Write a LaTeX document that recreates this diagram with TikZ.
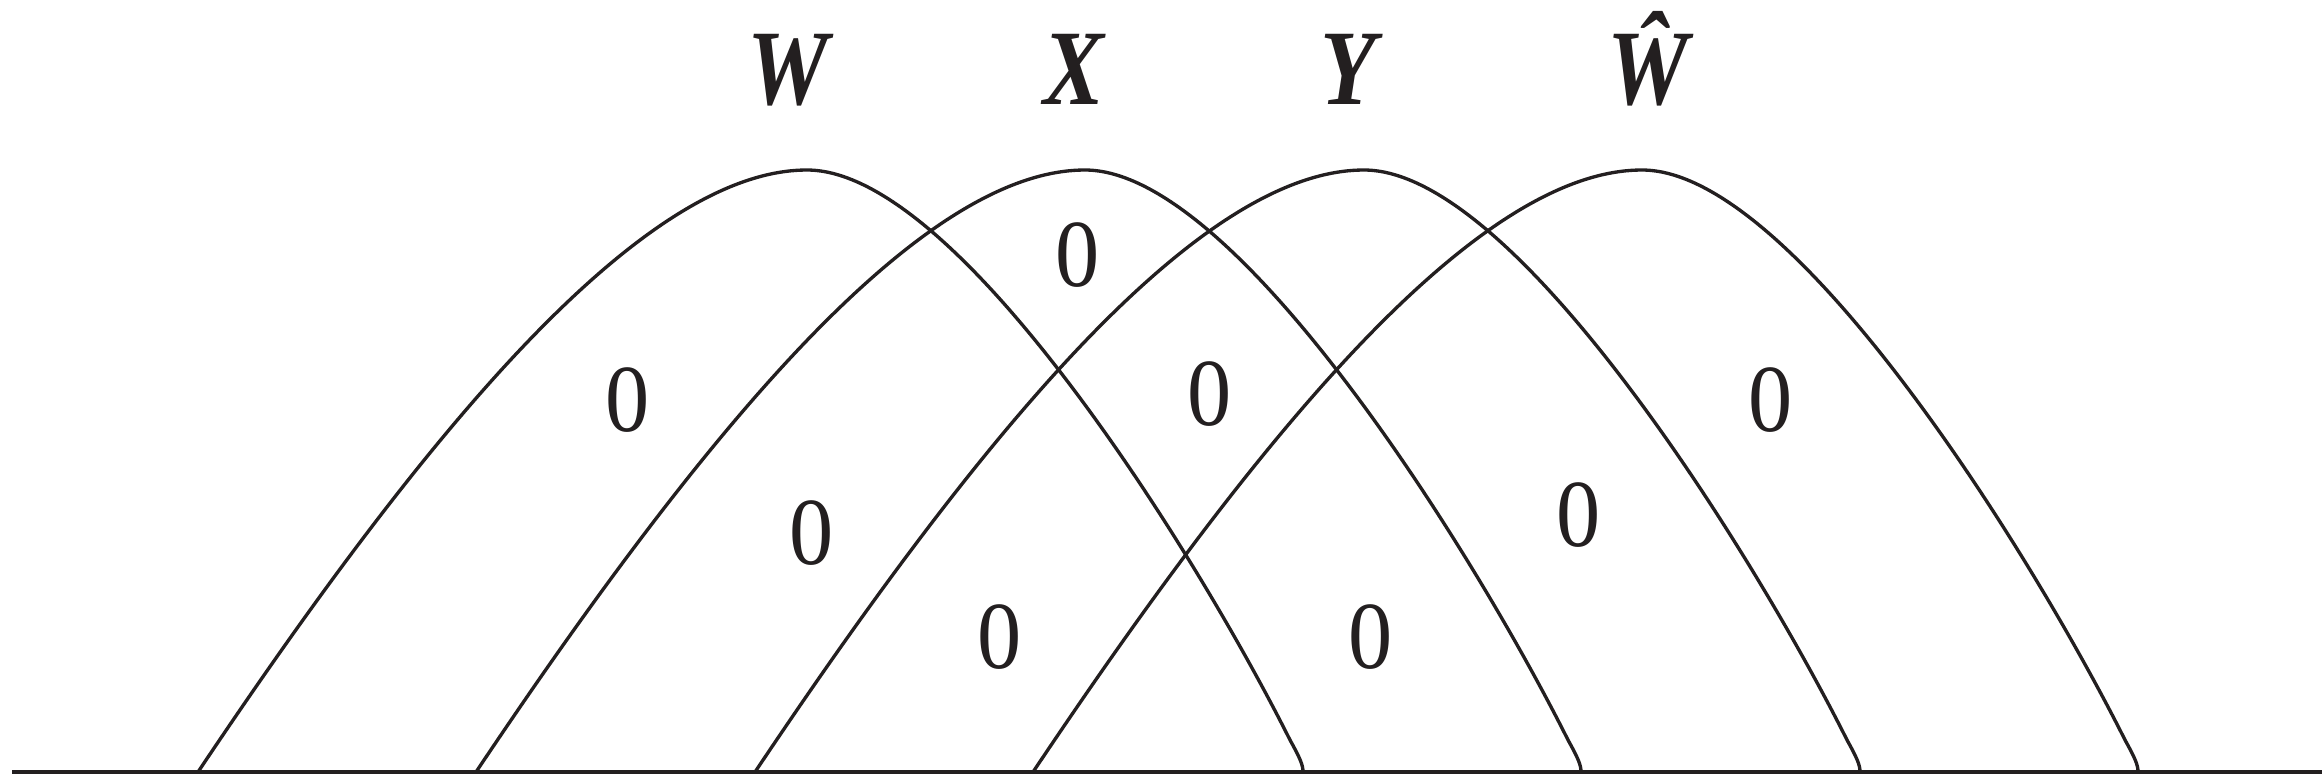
\documentclass[tikz,border=0pt]{standalone}
\usepackage{graphicx}
\usepackage{fontspec}
\setmainfont{Liberation Serif}
\definecolor{ink}{RGB}{35,31,32}
\begin{document}
\begin{tikzpicture}[x=0.01cm,y=-0.01cm,
  arch/.style={draw=ink, line width=0.95pt, line join=round, line cap=round},
  base/.style={draw=ink, line width=1.3pt},
  lbl/.style={text=ink, font=\fontsize{30.5}{32}\selectfont\bfseries\itshape, inner sep=0pt, anchor=base},
  zero/.style={text=ink, font=\fontsize{27.3}{30}\selectfont, inner sep=0pt}]
\useasboundingbox (0,0) rectangle (2322,778);
\coordinate (bl) at (12,772);
\coordinate (br) at (2322,772);
\draw[base] (bl) -- (br);
\foreach \s in {0,278,557,835}{
  \draw[arch,shift={(\s,0)}] (198,772) .. controls (420,440) and (640,170) .. (807,170)
     .. controls (960,170) and (1200,560) .. (1290,740)
     .. controls (1300,758) and (1303,765) .. (1303,772);
}
\node[lbl] (W) at (788,104) {\scalebox{0.85}[1]{W}};
\node[lbl] (X) at (1074,104) {\scalebox{0.85}[1]{X}};
\node[lbl] (Y) at (1348,104) {\scalebox{0.85}[1]{Y}};
\node[lbl] (Wh) at (1648,104) {\scalebox{0.85}[1]{\^{W}}};
\node[zero] (z1) at (628,400) {\scalebox{0.92}[1]{0}};
\node[zero] (z2) at (812,533) {\scalebox{0.92}[1]{0}};
\node[zero] (z3) at (1078,255) {\scalebox{0.92}[1]{0}};
\node[zero] (z4) at (1210,394) {\scalebox{0.92}[1]{0}};
\node[zero] (z5) at (1000,637) {\scalebox{0.92}[1]{0}};
\node[zero] (z6) at (1371,637) {\scalebox{0.92}[1]{0}};
\node[zero] (z7) at (1579,515) {\scalebox{0.92}[1]{0}};
\node[zero] (z8) at (1771,400) {\scalebox{0.92}[1]{0}};
\end{tikzpicture}
\end{document}
